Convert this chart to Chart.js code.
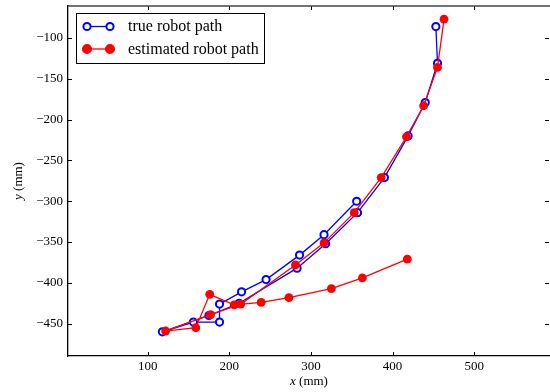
<!DOCTYPE html>
<html>
<head>
<meta charset="utf-8">
<script src="https://cdn.jsdelivr.net/npm/chart.js@4/dist/chart.umd.min.js"></script>
<style>
  html, body { margin: 0; padding: 0; background: #fff; }
  #wrap { width: 550px; height: 392px; }
</style>
</head>
<body>
<div id="wrap"><canvas id="pathChart" width="550" height="392"></canvas></div>
<script>
// true path (mm)
const trueX = [453, 455, 440, 419, 390, 357, 318, 283, 212, 175, 118, 156, 188, 188, 215, 245, 286, 316, 356];
const trueY = [-86, -131, -179, -220, -271, -314, -352, -382, -425, -440, -460, -448, -448, -426, -411, -396, -366, -341, -300];
// estimated path (mm)
const estX = [463, 455, 438, 417, 386, 353, 316, 281, 214, 177, 122, 159, 176, 206, 239, 273, 325, 363, 418];
const estY = [-77, -136, -183, -221, -271, -314, -351, -378, -426, -439, -459, -455, -414, -427, -424, -418, -407, -394, -371];

const xTicks = [100, 200, 300, 400, 500];
const yTicks = [-450, -400, -350, -300, -250, -200, -150, -100];
const seriesNames = ["true robot path", "estimated robot path"];

const SERIF = "'Liberation Serif', 'DejaVu Serif', serif";

function toPoints(xs, ys) {
    return xs.map((x, i) => ({ x: x, y: ys[i] }));
}

function fmt(v) {
    return v < 0 ? "\u2212" + Math.abs(v) : String(v);
}

// stretch the plot area to the right edge of the canvas (the right spine is cut off)
const fullRight = {
    id: "fullRight",
    afterLayout(chart) {
        const xs = chart.scales.x;
        const r = chart.width;
        xs.right = r;
        xs.width = r - xs.left;
        xs.configure();
        chart.chartArea.right = r;
        chart.chartArea.width = r - chart.chartArea.left;
    }
};

// inward ticks on all four sides, top spine, axis titles and legend
const decorations = {
    id: "decorations",
    afterDraw(chart) {
        const ctx = chart.ctx;
        const a = chart.chartArea;
        const xs = chart.scales.x, ys = chart.scales.y;
        const len = 4;
        ctx.save();
        ctx.strokeStyle = "#000";
        ctx.lineWidth = 1;
        ctx.beginPath();
        xTicks.forEach(v => {
            const px = Math.round(xs.getPixelForValue(v)) + 0.5;
            ctx.moveTo(px, a.bottom); ctx.lineTo(px, a.bottom - len);
            ctx.moveTo(px, a.top); ctx.lineTo(px, a.top + len);
        });
        yTicks.forEach(v => {
            const py = Math.round(ys.getPixelForValue(v)) + 0.5;
            ctx.moveTo(a.left, py); ctx.lineTo(a.left + len, py);
            ctx.moveTo(a.right - 1, py); ctx.lineTo(a.right - 1 - len, py);
        });
        ctx.stroke();

        // top spine
        ctx.strokeStyle = "#444";
        ctx.lineWidth = 1.3;
        ctx.beginPath();
        ctx.moveTo(a.left, a.top);
        ctx.lineTo(a.right, a.top);
        ctx.stroke();

        // axis titles
        ctx.fillStyle = "#000";
        ctx.textBaseline = "middle";
        const xc = (a.left + a.right) / 2;
        ctx.font = "italic 13px " + SERIF;
        const wx = ctx.measureText("x").width;
        ctx.font = "13px " + SERIF;
        const wr = ctx.measureText(" (mm)").width;
        let sx = xc - (wx + wr) / 2;
        ctx.textAlign = "left";
        ctx.font = "italic 13px " + SERIF;
        ctx.fillText("x", sx, 382);
        ctx.font = "13px " + SERIF;
        ctx.fillText(" (mm)", sx + wx, 382);

        ctx.save();
        ctx.translate(19, (a.top + a.bottom) / 2);
        ctx.rotate(-Math.PI / 2);
        ctx.font = "italic 13px " + SERIF;
        const wy = ctx.measureText("y").width;
        ctx.font = "13px " + SERIF;
        const wr2 = ctx.measureText(" (mm)").width;
        sx = -(wy + wr2) / 2;
        ctx.font = "italic 13px " + SERIF;
        ctx.fillText("y", sx, 0);
        ctx.font = "13px " + SERIF;
        ctx.fillText(" (mm)", sx + wy, 0);
        ctx.restore();

        // legend
        ctx.fillStyle = "#fff";
        ctx.fillRect(76.5, 13.5, 188, 50);
        ctx.strokeStyle = "#000";
        ctx.lineWidth = 1;
        ctx.strokeRect(76.5, 13.5, 188, 50);
        const rows = [26.5, 49];
        chart.data.datasets.forEach((ds, i) => {
            const y = rows[i];
            ctx.strokeStyle = ds.borderColor;
            ctx.lineWidth = ds.borderWidth;
            ctx.beginPath();
            ctx.moveTo(87, y); ctx.lineTo(110, y);
            ctx.stroke();
            [87, 110].forEach(cx => {
                ctx.beginPath();
                ctx.arc(cx, y, ds.pointRadius, 0, Math.PI * 2);
                ctx.fillStyle = ds.pointBackgroundColor;
                ctx.fill();
                ctx.lineWidth = ds.pointBorderWidth;
                ctx.strokeStyle = ds.pointBorderColor;
                ctx.stroke();
            });
            ctx.fillStyle = "#000";
            ctx.font = "16px " + SERIF;
            ctx.textAlign = "left";
            ctx.fillText(seriesNames[i], 128, y + 0.5);
        });
        ctx.restore();
    }
};

new Chart(document.getElementById("pathChart").getContext("2d"), {
    type: "scatter",
    data: {
        datasets: [{
            label: seriesNames[0],
            data: toPoints(trueX, trueY),
            showLine: true,
            borderColor: "#0000ff",
            borderWidth: 1.3,
            pointRadius: 3.6,
            pointBorderWidth: 2,
            pointBorderColor: "#0000ff",
            pointBackgroundColor: "#ffffff",
            order: 1
        }, {
            label: seriesNames[1],
            data: toPoints(estX, estY),
            showLine: true,
            borderColor: "#ff0000",
            borderWidth: 1.3,
            pointRadius: 4.4,
            pointBorderWidth: 0,
            pointBorderColor: "#ff0000",
            pointBackgroundColor: "#ff0000",
            order: 0
        }]
    },
    options: {
        responsive: false,
        animation: false,
        layout: { padding: { top: 6, right: 0, left: 0, bottom: 0 } },
        plugins: {
            legend: { display: false },
            tooltip: { enabled: false }
        },
        scales: {
            x: {
                type: "linear",
                min: 2.4,
                max: 592.8,
                afterBuildTicks: s => { s.ticks = xTicks.map(v => ({ value: v })); },
                afterFit: s => {
                    s.height = 36;
                    s.paddingLeft = 0; s.paddingRight = 0;
                },
                grid: { display: false, drawTicks: false },
                border: { display: true, color: "#000", width: 1.3 },
                ticks: {
                    color: "#000",
                    padding: 3,
                    maxRotation: 0,
                    font: { family: SERIF, size: 13 },
                    callback: v => fmt(v)
                }
            },
            y: {
                type: "linear",
                min: -489.6,
                max: -60.8,
                afterBuildTicks: s => { s.ticks = yTicks.map(v => ({ value: v })); },
                afterFit: s => {
                    s.width = 68;
                    s.paddingTop = 0; s.paddingBottom = 0;
                },
                grid: { display: false, drawTicks: false },
                border: { display: true, color: "#000", width: 1.3 },
                ticks: {
                    color: "#000",
                    padding: 5,
                    font: { family: SERIF, size: 13 },
                    callback: v => fmt(v)
                }
            }
        }
    },
    plugins: [fullRight, decorations]
});
</script>
</body>
</html>
